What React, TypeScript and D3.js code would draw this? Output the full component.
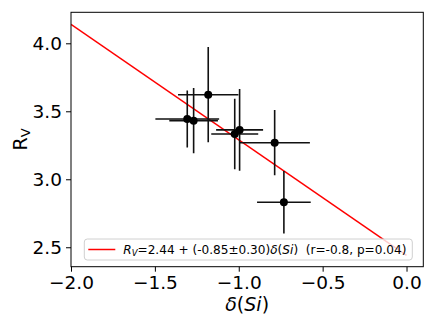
import React, { useEffect, useRef } from "react";
import * as d3 from "d3";

// measured points: delta(Si) vs R_V
const deltaSi = [-1.307, -1.269, -1.182, -1.024, -0.995, -0.786, -0.731];
const deltaSiErr = [0.19, 0.145, 0.18, 0.14, 0.14, 0.21, 0.16];
const rv = [3.443, 3.431, 3.622, 3.333, 3.363, 3.269, 2.831];
const rvErr = [0.21, 0.24, 0.35, 0.26, 0.3, 0.24, 0.23];

// linear fit R_V = a + b * delta
const fitA = 2.44;
const fitB = -0.85;
const fitX = [-2.0, 0.0];

const xTicks = [-2.0, -1.5, -1.0, -0.5, 0.0];
const yTicks = [2.5, 3.0, 3.5, 4.0];

const App = () => {
  const ref = useRef<SVGSVGElement>(null);

  useEffect(() => {
    document.body.style.margin = "0";
    const svg = d3.select(ref.current);
    svg.selectAll("*").remove();

    const margin = { top: 12.3, right: 12.7, bottom: 60.3, left: 71 };
    const width = 436,
      height = 327,
      innerWidth = width - margin.left - margin.right,
      innerHeight = height - margin.top - margin.bottom;

    const g = svg
      .append("g")
      .attr("transform", `translate(${margin.left},${margin.top})`);

    const x = d3.scaleLinear().domain([-2.0, 0.1]).range([0, innerWidth]);
    const y = d3.scaleLinear().domain([2.357, 4.228]).range([innerHeight, 0]);

    const data = deltaSi.map((d, i) => ({
      x: d,
      xe: deltaSiErr[i],
      y: rv[i],
      ye: rvErr[i],
    }));

    g.append("clipPath")
      .attr("id", "plotclip")
      .append("rect")
      .attr("width", innerWidth)
      .attr("height", innerHeight);

    const plot = g.append("g").attr("clip-path", "url(#plotclip)");

    // fit line
    const line = d3
      .line<number>()
      .x((d) => x(d))
      .y((d) => y(fitA + fitB * d));
    plot
      .append("path")
      .attr("d", line(fitX))
      .attr("fill", "none")
      .attr("stroke", "#ff0000")
      .attr("stroke-width", 1.5);

    // error bars
    plot
      .selectAll(".xerr")
      .data(data)
      .join("line")
      .attr("x1", (d) => x(d.x - d.xe))
      .attr("x2", (d) => x(d.x + d.xe))
      .attr("y1", (d) => y(d.y))
      .attr("y2", (d) => y(d.y))
      .attr("stroke", "#111")
      .attr("stroke-width", 1.6);
    plot
      .selectAll(".yerr")
      .data(data)
      .join("line")
      .attr("x1", (d) => x(d.x))
      .attr("x2", (d) => x(d.x))
      .attr("y1", (d) => y(d.y - d.ye))
      .attr("y2", (d) => y(d.y + d.ye))
      .attr("stroke", "#111")
      .attr("stroke-width", 1.6);
    plot
      .selectAll(".pt")
      .data(data)
      .join("circle")
      .attr("cx", (d) => x(d.x))
      .attr("cy", (d) => y(d.y))
      .attr("r", 4)
      .attr("fill", "#000");

    // axes
    const font = "DejaVu Sans, sans-serif";
    const xAxis = g
      .append("g")
      .attr("transform", `translate(0,${innerHeight})`)
      .call(
        d3
          .axisBottom(x)
          .tickValues(xTicks)
          .tickFormat(d3.format(".1f"))
          .tickSize(5)
          .tickPadding(4)
      );
    const yAxis = g.append("g").call(
      d3
        .axisLeft(y)
        .tickValues(yTicks)
        .tickFormat(d3.format(".1f"))
        .tickSize(5)
        .tickPadding(4)
    );
    [xAxis, yAxis].forEach((a) => {
      a.select(".domain").remove();
      a.selectAll("line").attr("stroke", "#000").attr("stroke-width", 1);
      a.selectAll("text")
        .attr("font-family", font)
        .attr("font-size", 18.5)
        .attr("fill", "#000");
    });

    g.append("rect")
      .attr("width", innerWidth)
      .attr("height", innerHeight)
      .attr("fill", "none")
      .attr("stroke", "#000")
      .attr("stroke-width", 1);

    // legend
    const leg = g
      .append("g")
      .attr("transform", `translate(${84.3 - margin.left},${239 - margin.top})`);
    leg
      .append("rect")
      .attr("width", 328)
      .attr("height", 21)
      .attr("rx", 3)
      .attr("fill", "#fff")
      .attr("fill-opacity", 0.8)
      .attr("stroke", "#d0d0d0")
      .attr("stroke-width", 1);
    leg
      .append("line")
      .attr("x1", 4)
      .attr("x2", 31)
      .attr("y1", 10.5)
      .attr("y2", 10.5)
      .attr("stroke", "#ff0000")
      .attr("stroke-width", 1.5);
    const lt = leg
      .append("text")
      .attr("x", 39)
      .attr("y", 15)
      .attr("font-family", font)
      .attr("font-size", 12.1)
      .attr("fill", "#000");
    lt.append("tspan").attr("font-style", "italic").text("R");
    lt.append("tspan")
      .attr("font-style", "italic")
      .attr("font-size", 8.5)
      .attr("dy", 2)
      .text("V");
    lt.append("tspan").attr("dy", -2).text("=2.44 + (-0.85±0.30)");
    lt.append("tspan").attr("font-style", "italic").text("δ");
    lt.append("tspan").text("(");
    lt.append("tspan").attr("font-style", "italic").text("Si");
    lt.append("tspan").text(")");
    lt.append("tspan").text("\u00a0\u00a0(r=-0.8, p=0.04)");

    // axis labels
    const xl = svg
      .append("text")
      .attr("x", margin.left + innerWidth / 2)
      .attr("y", 311)
      .attr("text-anchor", "middle")
      .attr("font-family", font)
      .attr("font-size", 19)
      .attr("fill", "#000");
    xl.append("tspan").attr("font-style", "italic").text("δ");
    xl.append("tspan").text("(");
    xl.append("tspan").attr("font-style", "italic").text("Si");
    xl.append("tspan").text(")");

    const yl = svg
      .append("text")
      .attr("transform", `translate(27,${margin.top + innerHeight / 2}) rotate(-90)`)
      .attr("text-anchor", "middle")
      .attr("font-family", font)
      .attr("font-size", 19)
      .attr("fill", "#000");
    yl.append("tspan").text("R");
    yl.append("tspan").attr("font-size", 13).attr("dy", 3).text("V");
  }, []);

  return <svg ref={ref} width={436} height={327} style={{ display: "block" }} />;
};

export default App;
